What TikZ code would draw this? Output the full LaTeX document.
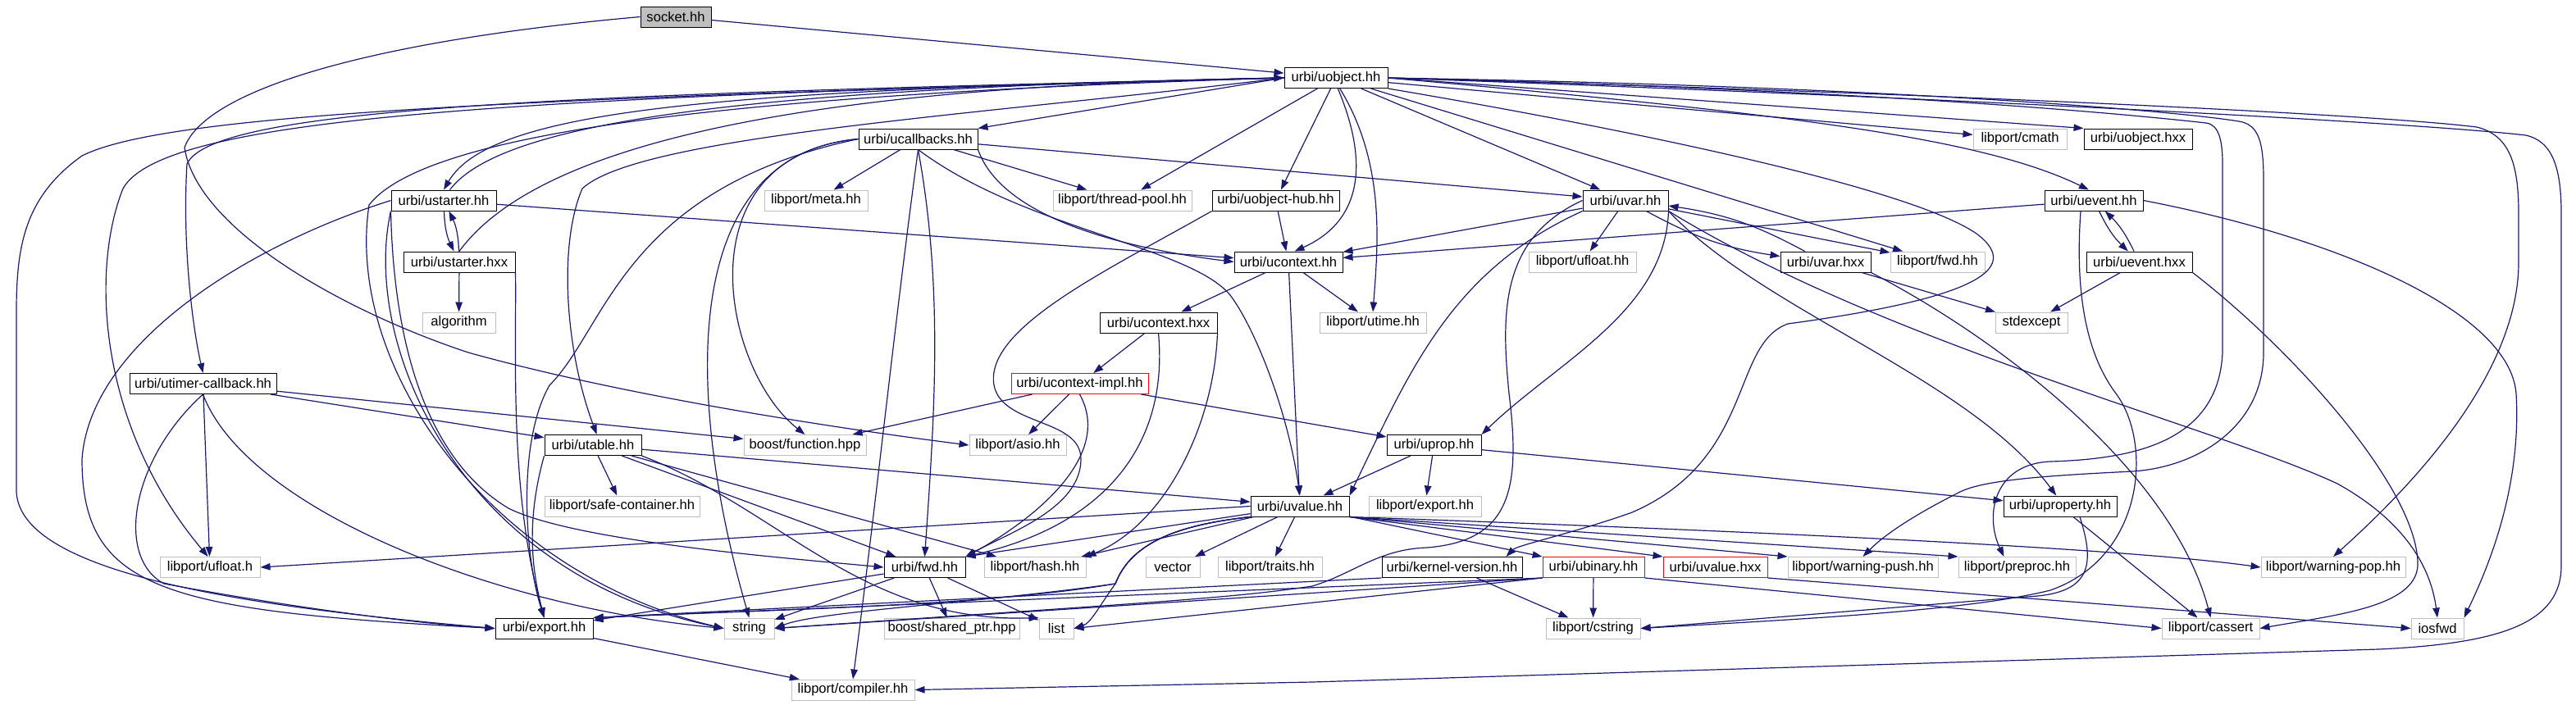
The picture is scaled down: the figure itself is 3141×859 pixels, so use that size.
\documentclass[tikz,border=0pt]{standalone}
\usepackage{fontspec}
\setmainfont{Liberation Sans}
\usetikzlibrary{arrows.meta}
\definecolor{doxblue}{RGB}{25,25,112}
\definecolor{doxgray}{RGB}{191,191,191}
\definecolor{doxred}{RGB}{255,0,0}
\tikzset{
    hfile/.style={
        draw=#1,line width=0.5pt,fill=white,minimum height=12.5pt,
        inner sep=1pt,font=\fontsize{8.3}{9}\selectfont,text=black
    },
    hfile/.default=black,
    sysfile/.style={hfile=doxgray},
    cutfile/.style={hfile=doxred},
    rootfile/.style={hfile,fill=doxgray},
    dep/.style={
        -{Triangle[length=6pt,width=4.2pt]},draw=doxblue,line width=0.6pt
    }
}
\begin{document}
\begin{tikzpicture}[x=0.5pt,y=-0.5pt]
\useasboundingbox (0,0) rectangle (3141,859);

\node[rootfile,minimum width=43pt] (socket) at (824,20.5) {socket.hh};
\node[hfile,minimum width=63pt] (uobject) at (1629,95) {urbi/uobject.hh};
\node[hfile,minimum width=72.5pt] (ucallbacks) at (1119.5,169.5) {urbi/ucallbacks.hh};
\node[sysfile,minimum width=57pt] (cmath) at (2463,169.5) {libport/cmath};
\node[hfile,minimum width=66pt] (uobjecthxx) at (2607,169.5) {urbi/uobject.hxx};
\node[hfile,minimum width=64pt] (ustarter) at (541,244.5) {urbi/ustarter.hh};
\node[sysfile,minimum width=63pt] (meta) at (995,244.5) {libport/meta.hh};
\node[sysfile,minimum width=84.5pt] (threadpool) at (1368.5,244.5) {libport/thread-pool.hh};
\node[hfile,minimum width=77.5pt] (uobjecthub) at (1555.5,244.5) {urbi/uobject-hub.hh};
\node[hfile,minimum width=52pt] (uvar) at (1982,244.5) {urbi/uvar.hh};
\node[hfile,minimum width=60pt] (uevent) at (2553,244.5) {urbi/uevent.hh};
\node[hfile,minimum width=68pt] (ustarterhxx) at (560,319.5) {urbi/ustarter.hxx};
\node[hfile,minimum width=66pt] (ucontext) at (1571,319.5) {urbi/ucontext.hh};
\node[sysfile,minimum width=65.5pt] (ufloathh) at (1929.5,319.5) {libport/ufloat.hh};
\node[hfile,minimum width=55pt] (uvarhxx) at (2226,319.5) {urbi/uvar.hxx};
\node[sysfile,minimum width=57.5pt] (fwdhh) at (2362.5,319.5) {libport/fwd.hh};
\node[hfile,minimum width=64.5pt] (ueventhxx) at (2608.5,319.5) {urbi/uevent.hxx};
\node[sysfile,minimum width=44.5pt] (algorithm) at (559.5,393.5) {algorithm};
\node[hfile,minimum width=71.5pt] (ucontexthxx) at (1412.5,393.5) {urbi/ucontext.hxx};
\node[sysfile,minimum width=65pt] (utime) at (1674,393.5) {libport/utime.hh};
\node[sysfile,minimum width=44pt] (stdexcept) at (2477,393.5) {stdexcept};
\node[hfile,minimum width=89.5pt] (utimercb) at (247.5,468) {urbi/utimer-callback.hh};
\node[cutfile,minimum width=83.5pt] (ucontextimpl) at (1316.5,468) {urbi/ucontext-impl.hh};
\node[hfile,minimum width=59pt] (utable) at (723,543) {urbi/utable.hh};
\node[sysfile,minimum width=74.5pt] (boostfunction) at (981.5,543) {boost/function.hpp};
\node[sysfile,minimum width=59pt] (asio) at (1241,543) {libport/asio.hh};
\node[hfile,minimum width=57.5pt] (uprop) at (1748.5,543) {urbi/uprop.hh};
\node[sysfile,minimum width=94.5pt] (safecontainer) at (758.5,617.5) {libport/safe-container.hh};
\node[hfile,minimum width=60pt] (uvalue) at (1585,617.5) {urbi/uvalue.hh};
\node[sysfile,minimum width=68.5pt] (libexport) at (1737.5,617.5) {libport/export.hh};
\node[hfile,minimum width=69pt] (uproperty) at (2512,617.5) {urbi/uproperty.hh};
\node[sysfile,minimum width=61pt] (ufloath) at (256,692) {libport/ufloat.h};
\node[hfile,minimum width=49.5pt] (urbifwd) at (1127.5,692) {urbi/fwd.hh};
\node[sysfile,minimum width=62pt] (hash) at (1262,692) {libport/hash.hh};
\node[sysfile,minimum width=33pt] (vector) at (1430,692) {vector};
\node[sysfile,minimum width=63.5pt] (traits) at (1548.5,692) {libport/traits.hh};
\node[hfile,minimum width=85.5pt] (kernelversion) at (1770.5,692) {urbi/kernel-version.hh};
\node[cutfile,minimum width=62pt] (ubinary) at (1943,692) {urbi/ubinary.hh};
\node[cutfile,minimum width=63.5pt] (uvaluehxx) at (2091.5,692) {urbi/uvalue.hxx};
\node[sysfile,minimum width=91.5pt] (warningpush) at (2271.5,692) {libport/warning-push.hh};
\node[sysfile,minimum width=71.5pt] (preproc) at (2459.5,692) {libport/preproc.hh};
\node[sysfile,minimum width=88pt] (warningpop) at (2845,692) {libport/warning-pop.hh};
\node[hfile,minimum width=59.5pt] (export) at (663.5,766.5) {urbi/export.hh};
\node[sysfile,minimum width=30.5pt] (string) at (913.5,766.5) {string};
\node[sysfile,minimum width=82.5pt] (sharedptr) at (1160.5,766.5) {boost/shared\_ptr.hpp};
\node[sysfile,minimum width=21pt] (list) at (1288,766.5) {list};
\node[sysfile,minimum width=57.5pt] (cstring) at (1942.5,766.5) {libport/cstring};
\node[sysfile,minimum width=59.5pt] (cassert) at (2695.5,766.5) {libport/cassert};
\node[sysfile,minimum width=32pt] (iosfwd) at (2972,766.5) {iosfwd};
\node[sysfile,minimum width=75pt] (compiler) at (1040,841.5) {libport/compiler.hh};

\draw[dep] (socket) -- (uobject);
\draw[dep] (socket.west) .. controls (450,50) and (250,110) .. (225,180) .. controls (240,280) and (420,380) .. (571,430) .. controls (750,480) and (1000,520) .. (asio.west);

\draw[dep] (uobject.west) -- (ucallbacks.north east);
\draw[dep] (uobject.west) .. controls (900,110) and (600,130) .. (ustarter.north);
\draw[dep] (ustarter.60) .. controls (610,150) and (900,108) .. (uobject.west);
\draw[dep] (ustarterhxx.north) .. controls (660,170) and (1000,105) .. (uobject.west);
\draw[dep] (uobject.west) .. controls (700,115) and (260,130) .. (228,200) .. controls (222,300) and (235,400) .. (utimercb.north);
\draw[dep] (uobject.west) .. controls (650,118) and (200,140) .. (150,230) .. controls (110,330) and (120,520) .. (ufloath.100);
\draw[dep] (uobject.west) .. controls (600,120) and (200,140) .. (100,190) .. controls (30,240) and (20,300) .. (20,380) -- (20,600) .. controls (25,700) and (300,740) .. (export.west);
\draw[dep] (uobject.west) .. controls (900,115) and (520,160) .. (450,250) .. controls (420,450) and (600,700) .. (string.west);
\draw[dep] (uobject.west) .. controls (1200,140) and (780,165) .. (710,230) .. controls (680,300) and (690,430) .. (utable.70);
\draw[dep] (uobject) -- (threadpool);
\draw[dep] (uobject) -- (uobjecthub);
\draw[dep] (uobject.280) .. controls (1670,200) and (1660,270) .. (ucontext.60);
\draw[dep] (uobject.290) .. controls (1690,200) and (1680,300) .. (utime.north);
\draw[dep] (uobject) -- (uvar);
\draw[dep] (uobject) -- (fwdhh);
\draw[dep] (uobject) -- (cmath);
\draw[dep] (uobject.east) -- (uobjecthxx.north west);
\draw[dep] (uobject.east) .. controls (2200,140) and (2420,170) .. (uevent.115);
\draw[dep] (uobject.south east) .. controls (2000,160) and (2330,230) .. (2410,285) .. controls (2470,330) and (2400,365) .. (2180,395) .. controls (2110,420) and (2140,560) .. (1990,625) .. controls (1920,650) and (1850,665) .. ([xshift=-10pt]kernelversion.north east);
\draw[dep] (uobject.east) .. controls (2300,110) and (2600,140) .. (2690,150) .. controls (2705,152) and (2710,170) .. (2710,200) -- (2710,430) .. controls (2705,540) and (2600,560) .. (2500,563) .. controls (2430,566) and (2420,630) .. ([xshift=-8pt]preproc.north);
\draw[dep] (uobject.east) .. controls (2300,105) and (2650,135) .. (2730,148) .. controls (2755,152) and (2760,175) .. (2760,220) -- (2760,430) .. controls (2760,520) and (2680,570) .. (2600,575) .. controls (2500,580) and (2420,585) .. (2390,600) .. controls (2340,625) and (2300,650) .. (warningpush.north);
\draw[dep] (uobject.east) .. controls (2400,115) and (2900,140) .. (3020,155) .. controls (3060,165) and (3071,200) .. (3071,260) -- (3071,320) .. controls (3071,420) and (3000,540) .. (warningpop.north);
\draw[dep] (uobject.east) .. controls (2400,120) and (2950,150) .. (3080,165) .. controls (3110,172) and (3123,200) .. (3123,260) -- (3123,690) .. controls (3123,760) and (3050,785) .. (2900,792) -- (1600,832) -- (compiler.east);

\draw[dep] (ucallbacks) -- (meta);
\draw[dep] (ucallbacks) -- (threadpool);
\draw[dep] (ucallbacks) -- (uvar);
\draw[dep] (ucallbacks.south east) .. controls (1220,260) and (1350,300) .. (ucontext.west);
\draw[dep] (ucallbacks.south) .. controls (1250,280) and (1450,300) .. (1500,360) .. controls (1530,400) and (1570,500) .. (uvalue.north);
\draw[dep] (ucallbacks.south) .. controls (1150,350) and (1140,500) .. (urbifwd.north);
\draw[dep] (ucallbacks.south) .. controls (1090,400) and (1070,600) .. (compiler.north);
\draw[dep] (ucallbacks.west) .. controls (820,190) and (840,500) .. (string.north);
\draw[dep] (ucallbacks.west) .. controls (830,190) and (880,450) .. (boostfunction.north);
\draw[dep] (ucallbacks.west) .. controls (760,230) and (740,400) .. (670,470) .. controls (630,540) and (640,680) .. (export.north);

\draw[dep] (ustarter) to[bend right=12] (ustarterhxx);
\draw[dep] (ustarterhxx) to[bend right=12] (ustarter);
\draw[dep] (ustarter) -- (ucontext);
\draw[dep] (ustarter.west) .. controls (300,300) and (110,420) .. (100,560) .. controls (100,720) and (200,745) .. (export.west);
\draw[dep] (ustarter.south west) .. controls (440,420) and (560,700) .. (string.west);
\draw[dep] (ustarter.south west) .. controls (480,420) and (520,560) .. (620,620) .. controls (700,660) and (950,680) .. (urbifwd.west);
\draw[dep] (ustarterhxx) -- (algorithm);
\draw[dep] (ustarterhxx.south east) .. controls (630,420) and (620,600) .. (export.north);

\draw[dep] (utimercb) -- (utable);
\draw[dep] (utimercb) -- (boostfunction);
\draw[dep] (utimercb) -- (ufloath);
\draw[dep] (utimercb.south) .. controls (160,560) and (140,680) .. (200,712) .. controls (350,740) and (500,760) .. (export.west);
\draw[dep] (utimercb.south) .. controls (300,620) and (600,740) .. (string.west);

\draw[dep] (utable) -- (safecontainer);
\draw[dep] (utable) -- (uvalue);
\draw[dep] (utable) -- (hash);
\draw[dep] (utable) -- (urbifwd);
\draw[dep] (utable.south east) .. controls (950,620) and (1050,760) .. (list.north west);
\draw[dep] (utable.south west) .. controls (640,640) and (650,700) .. (export.north);

\draw[dep] (ucontext) -- (ucontexthxx);
\draw[dep] (ucontext) -- (utime);
\draw[dep] (ucontext) -- (uvalue);
\draw[dep] (uobjecthub) -- (ucontext);
\draw[dep] (uobjecthub.south west) .. controls (1350,330) and (1200,400) .. (1212,470) .. controls (1222,520) and (1318,510) .. (1318,560) .. controls (1318,620) and (1230,650) .. (urbifwd.north east);
\draw[dep] (ucontexthxx) -- (ucontextimpl);
\draw[dep] (ucontexthxx.south) .. controls (1425,540) and (1350,640) .. (urbifwd.north east);
\draw[dep] (ucontexthxx.south east) .. controls (1480,520) and (1420,640) .. (hash.north east);
\draw[dep] (ucontextimpl) -- (boostfunction);
\draw[dep] (ucontextimpl) -- (asio);
\draw[dep] (ucontextimpl) -- (uprop);
\draw[dep] (ucontextimpl.south) .. controls (1360,560) and (1250,640) .. (urbifwd.north east);
\draw[dep] (uprop) -- (uvalue);
\draw[dep] (uprop) -- (libexport);
\draw[dep] (uprop) -- (uproperty);

\draw[dep] (uvar) to[bend right=10] (uvarhxx);
\draw[dep] (uvarhxx) to[bend right=10] (uvar);
\draw[dep] (uvar) -- (ufloathh);
\draw[dep] (uvar) -- (fwdhh);
\draw[dep] (uvar) -- (ucontext);
\draw[dep] (uvar.south west) .. controls (1770,330) and (1720,450) .. (uvalue.north east);
\draw[dep] (uvar.south east) .. controls (2030,380) and (1900,440) .. (uprop.north east);
\draw[dep] (uvar.west) .. controls (1830,290) and (1830,380) .. (1840,480) .. controls (1855,600) and (1840,660) .. (1740,668) .. controls (1680,670) and (1650,700) .. (1600,715) .. controls (1500,730) and (1400,735) .. (string.east);
\draw[dep] (uvar.south east) .. controls (2150,380) and (2400,460) .. (uproperty.110);
\draw[dep] (uvar.south east) .. controls (2300,420) and (2700,520) .. (2850,590) .. controls (2940,640) and (2965,700) .. (iosfwd.north);
\draw[dep] (uvarhxx) -- (stdexcept);
\draw[dep] (uvarhxx.south east) .. controls (2450,420) and (2650,580) .. (cassert.north);

\draw[dep] (uevent) to[bend right=10] (ueventhxx);
\draw[dep] (ueventhxx) to[bend right=10] (uevent);
\draw[dep] (uevent) -- (ucontext);
\draw[dep] (uevent.east) .. controls (2850,290) and (3060,380) .. (3068,480) .. controls (3075,600) and (3030,700) .. (iosfwd.north east);
\draw[dep] ([xshift=-8pt]uevent.south) .. controls (2532,330) and (2535,420) .. (2580,480) .. controls (2625,540) and (2615,680) .. (2500,720) .. controls (2400,745) and (2200,755) .. (cstring.east);
\draw[dep] (ueventhxx) -- (stdexcept);
\draw[dep] (ueventhxx.south east) .. controls (2800,430) and (2950,600) .. (2948,690) .. controls (2945,740) and (2850,750) .. (cassert.east);
\draw[dep] (uproperty) -- (cassert);
\draw[dep] ([xshift=12pt]uproperty.south) .. controls (2555,690) and (2550,725) .. (2470,728) -- (cstring.east);

\draw[dep] (uvalue.west) -- (ufloath.east);
\draw[dep] (uvalue) -- (urbifwd.north east);
\draw[dep] (uvalue) -- (hash);
\draw[dep] (uvalue) -- (vector);
\draw[dep] (uvalue) -- (traits);
\draw[dep] (uvalue) -- (ubinary);
\draw[dep] (uvalue.south east) -- (uvaluehxx.north west);
\draw[dep] (uvalue.south east) -- (warningpush.north west);
\draw[dep] (uvalue.south east) -- (preproc.north west);
\draw[dep] (uvalue.south east) .. controls (2200,650) and (2600,670) .. (warningpop.west);
\draw[dep] (uvalue.south west) .. controls (1440,640) and (1380,660) .. (1360,712) .. controls (1200,740) and (900,745) .. (export.north east);
\draw[dep] (uvalue.south west) .. controls (1440,640) and (1380,660) .. (1360,712) .. controls (1200,735) and (1000,745) .. (string.east);
\draw[dep] (uvalue.south west) .. controls (1440,640) and (1380,660) .. (1360,712) .. controls (1340,740) and (1330,760) .. (list.east);

\draw[dep] (kernelversion) -- (cstring);
\draw[dep] (kernelversion.south west) -- (export.north east);
\draw[dep] (ubinary) -- (cstring);
\draw[dep] (ubinary.south west) -- (export.north east);
\draw[dep] (ubinary.south west) -- (string.east);
\draw[dep] (ubinary.south west) -- (list.east);
\draw[dep] (ubinary.south east) -- (cassert.west);
\draw[dep] (uvaluehxx.south east) -- (iosfwd.west);

\draw[dep] (urbifwd) -- (export);
\draw[dep] (urbifwd) -- (string);
\draw[dep] (urbifwd) -- (sharedptr);
\draw[dep] (urbifwd) -- (list);
\draw[dep] (export) -- (compiler);

\end{tikzpicture}
\end{document}
